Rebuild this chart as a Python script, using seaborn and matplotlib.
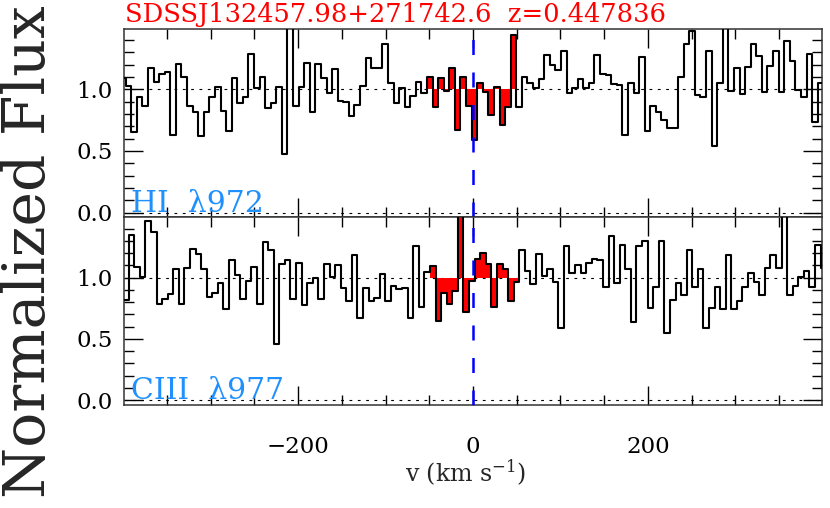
import matplotlib
import numpy as np
import pandas as pd

matplotlib.use("Agg")
import matplotlib.pyplot as plt
import seaborn as sns
from matplotlib.ticker import MultipleLocator

TITLE = "SDSSJ132457.98+271742.6  z=0.447836"
LINE_LABELS = ["HI  λ972", "CIII  λ977"]

# velocity grid of the spectrum pixels (km/s)
DV = 6.38
HI_V0 = -400.3     # centre of first HI pixel
CIII_V0 = -403.3   # centre of first CIII pixel

HI_FLUX = [
    1.095, 1.027, 0.657, 0.940, 0.865, 1.176, 1.062, 1.124, 1.143, 0.630,
    1.203, 1.103, 0.865, 0.819, 0.624, 0.819, 0.940, 1.016, 0.827, 0.662,
    1.089, 0.892, 0.940, 1.284, 1.014, 1.097, 0.851, 0.892, 1.016, 0.476,
    1.600, 0.865, 1.016, 1.211, 0.819, 1.203, 1.095, 0.968, 1.165, 0.905,
    0.900, 0.786, 0.873, 1.027, 1.257, 1.176, 1.170, 1.368, 1.054, 0.886,
    1.014, 0.859, 0.946, 1.057, 0.973, 1.097, 0.859, 1.095, 0.986, 1.170,
    0.670, 1.103, 0.865, 0.589, 1.054, 0.981, 0.792, 1.016, 0.711, 0.859,
    1.441, 0.859, 1.097, 1.049, 1.014, 1.084, 1.278, 1.197, 1.157, 1.314,
    0.973, 1.008, 1.084, 1.008, 1.049, 1.278, 1.122, 1.116, 1.043, 1.035,
    0.630, 1.049, 0.973, 1.265, 0.662, 0.865, 0.814, 0.751, 0.690, 0.684,
    1.103, 1.365, 1.470, 0.954, 0.940, 1.311, 0.543, 1.049, 1.600, 0.989,
    1.176, 0.959, 1.184, 1.368, 1.270, 0.976, 1.189, 1.311, 0.976, 1.395,
    1.232, 0.995, 0.940, 1.284, 0.738, 1.049,
]

CIII_FLUX = [
    0.720, 0.816, 1.344, 1.087, 1.005, 1.458, 1.371, 0.783, 0.824, 0.862,
    1.073, 0.783, 1.081, 1.236, 1.190, 1.073, 0.843, 0.870, 0.957, 0.743,
    1.146, 1.019, 0.824, 0.970, 1.087, 0.783, 1.290, 1.222, 0.455, 1.114,
    1.146, 0.824, 1.122, 0.775, 0.959, 1.000, 0.821, 1.108, 1.005, 1.106,
    0.916, 0.808, 1.182, 0.667, 0.916, 0.810, 0.835, 1.027, 0.810, 0.932,
    0.905, 0.916, 0.672, 1.255, 0.762, 1.046, 1.090, 0.642, 0.870, 0.780,
    0.886, 1.600, 0.718, 0.970, 1.150, 1.200, 1.109, 0.756, 1.109, 1.070,
    0.810, 0.960, 1.225, 1.050, 0.951, 1.195, 1.011, 1.073, 0.965, 0.591,
    1.257, 1.041, 1.100, 1.038, 1.119, 1.154, 1.146, 0.924, 1.336, 0.959,
    1.263, 1.073, 0.640, 1.257, 1.298, 0.748, 0.924, 1.298, 0.550, 0.816,
    0.957, 0.856, 1.222, 0.924, 1.073, 0.585, 0.748, 0.919, 0.743, 1.187,
    0.740, 0.810, 0.924, 1.038, 0.965, 0.856, 1.079, 1.187, 1.081, 1.600,
    0.856, 0.932, 1.005, 1.051, 0.919, 1.268, 1.079,
]

VLIM = (-399, 399)
FLIM = (-0.04, 1.49)
WINDOW = 50  # km/s, shaded integration window

sns.set_style("ticks")
plt.rcParams["font.family"] = ["DejaVu Serif"]
plt.rcParams["mathtext.fontset"] = "dejavuserif"


def draw_panel(ax, v0, flux, label):
    flux = np.asarray(flux)
    edges = v0 - DV / 2 + DV * np.arange(len(flux) + 1)
    centers = edges[:-1] + DV / 2

    # red fill between flux and continuum inside the window
    idx = np.flatnonzero(np.abs(centers) <= WINDOW)
    fx = edges[idx[0]: idx[-1] + 2]
    fy = np.append(flux[idx], flux[idx[-1]])
    ax.fill_between(fx, fy, 1.0, step="post", color="#ff0000", lw=0, zorder=2)

    df = pd.DataFrame({"v": edges, "flux": np.append(flux, flux[-1])})
    sns.lineplot(data=df, x="v", y="flux", ax=ax, color="black", lw=1.5,
                 drawstyle="steps-post", estimator=None, sort=False, zorder=3)

    for y in (0.0, 1.0):
        ax.axhline(y, color="black", lw=0.8, ls=(0, (2.5, 5)), zorder=1)
    ax.axvline(0, color="#0000ff", lw=1.8, ls=(0, (6, 7)), zorder=4)

    ax.set_xlim(*VLIM)
    ax.set_ylim(*FLIM)
    ax.set_xlabel("")
    ax.set_ylabel("")
    ax.xaxis.set_major_locator(MultipleLocator(200))
    ax.xaxis.set_minor_locator(MultipleLocator(50))
    ax.yaxis.set_major_locator(MultipleLocator(0.5))
    ax.yaxis.set_minor_locator(MultipleLocator(0.1))
    ax.yaxis.set_major_formatter(matplotlib.ticker.FormatStrFormatter("%.1f"))
    ax.tick_params(which="both", direction="in", top=True, right=True,
                   width=1.0, colors="black", labelsize=16.5)
    ax.tick_params(which="major", length=14)
    ax.tick_params(which="minor", length=7)
    ax.tick_params(axis="y", pad=8)
    ax.tick_params(axis="x", pad=22)
    for sp in ax.spines.values():
        sp.set_linewidth(1.1)
        sp.set_color("#333333")
    ax.text(0.01, 0.005, label, transform=ax.get_yaxis_transform(),
            color="#1e90ff", fontsize=21.5, ha="left", va="baseline", zorder=5)


fig = plt.figure(figsize=(8.3, 5.08), dpi=100)
ax_top = fig.add_axes([0.1494, 0.5719, 0.8410, 0.3710])
ax_bot = fig.add_axes([0.1494, 0.2028, 0.8410, 0.3691])

draw_panel(ax_top, HI_V0, HI_FLUX, LINE_LABELS[0])
draw_panel(ax_bot, CIII_V0, CIII_FLUX, LINE_LABELS[1])
ax_top.tick_params(axis="x", labelbottom=False)

fig.text(125 / 830, 1 - 22 / 508, TITLE, color="#ff0000", fontsize=18.5,
         ha="left", va="baseline")
fig.text(29 / 830, 0.505, "Normalized Flux", rotation=90, fontsize=42,
         ha="center", va="center")
fig.text(466 / 830, 1 - 473 / 508, "v (km s$^{-1}$)", fontsize=17,
         ha="center", va="center")

fig.savefig("out.png", dpi=100)
plt.close(fig)
